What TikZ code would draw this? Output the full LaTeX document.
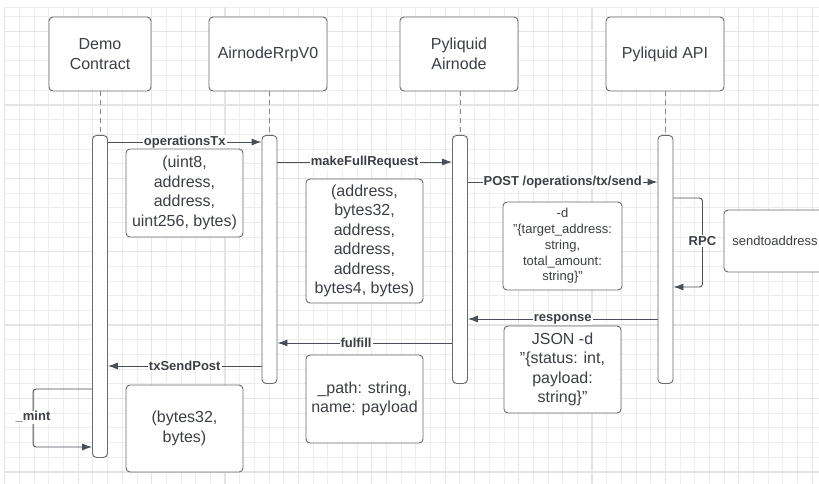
\documentclass[tikz,border=0pt]{standalone}
\usepackage{fontspec}
\setmainfont{Liberation Sans}
\usetikzlibrary{calc,positioning,arrows.meta}
\definecolor{gridmin}{HTML}{EDEDED}
\definecolor{gridmaj}{HTML}{E4E4E4}
\definecolor{edgegray}{HTML}{676A70}
\definecolor{inkgray}{HTML}{3C3F45}
\definecolor{linegray}{HTML}{4A4F57}

\begin{document}
\begin{tikzpicture}[x=1pt,y=-1pt]

     \tikzstyle{every node}=[text=inkgray]
     \tikzstyle{head}=[draw=edgegray,fill=white,line width=0.9pt,rounded corners=4pt,minimum width=118pt,minimum height=74pt,align=center,font=\fontsize{16}{19.5}\selectfont]
     \tikzstyle{bar}=[draw=edgegray,line width=0.9pt,fill=white,rounded corners=4pt,minimum width=15pt,inner sep=0pt,anchor=north]
     \tikzstyle{note}=[draw=edgegray,fill=white,line width=0.9pt,rounded corners=4pt,minimum width=117pt,align=center,font=\fontsize{16}{19.5}\selectfont]
     \tikzstyle{life}=[draw=edgegray!80,line width=0.8pt,dash pattern=on 5pt off 4pt]
     \tikzstyle{msg}=[draw=linegray,line width=0.9pt,-{Latex[length=10pt,width=7pt]}]
     \tikzstyle{lbl}=[fill=white,inner sep=1pt,font=\fontsize{13}{15}\selectfont\bfseries]

     % background grid
     \fill[white](0,0)rectangle(819,484);
     \clip(0,0)rectangle(819,484);
     \foreach \i in {0,...,55}
       \draw[gridmin,line width=0.8pt](4.8+14.68*\i,7)--(4.8+14.68*\i,484);
     \foreach \j in {0,...,32}
       \draw[gridmin,line width=0.8pt](4.8,16.8+14.68*\j)--(819,16.8+14.68*\j);
     \draw[gridmin,line width=0.8pt](4.8,7)--(819,7);
     \foreach \i in {0,5,...,55}
       \draw[gridmaj,line width=1.3pt](4.8+14.68*\i,7)--(4.8+14.68*\i,484);
     \foreach \j in {1,6,...,31}
       \draw[gridmaj,line width=1.3pt](4.8,16.8+14.68*\j)--(819,16.8+14.68*\j);

     % participants
     \node[head,minimum width=102pt](demo) at (100,54){Demo\\Contract};
     \node[head](rrp) at (268,54){AirnodeRrpV0};
     \node[head](pyair) at (459,54){Pyliquid\\Airnode};
     \node[head](pyapi) at (665,54){Pyliquid API};

     % activation bars
     \node[bar,minimum height=322pt](dbar) at (100,135){};
     \node[bar,minimum height=248pt](rbar) at (269.5,135){};
     \node[bar,minimum height=248pt](abar) at (460,135){};
     \node[bar,minimum height=248pt](pbar) at (665.5,135){};
     \draw[life](dbar.north |- demo.south)--(dbar.north);
     \draw[life](rbar.north |- rrp.south)--(rbar.north);
     \draw[life](abar.north |- pyair.south)--(abar.north);
     \draw[life](pbar.north |- pyapi.south)--(pbar.north);

     % messages
     \draw[msg]($(dbar.north east)+(0,7)$)--($(rbar.north west)+(0,7)$)node[midway,lbl]{operationsTx};
     \draw[msg]($(rbar.north east)+(0,27)$)--($(abar.north west)+(0,27)$)node[midway,lbl]{makeFullRequest};
     \draw[msg]($(abar.north east)+(0,47)$)--($(pbar.north west)+(0,47)$)node[midway,lbl]{POST /operations/tx/send};
     \draw[msg,rounded corners=3pt]($(pbar.north east)+(0,63)$)--++(29,0)--++(0,89)--($(pbar.north east)+(0,152)$);
     \node[lbl](rpc) at ($(pbar.north east)+(29,106)$){RPC};
     \draw[msg]($(pbar.north west)+(0,184)$)--($(abar.north east)+(0,184)$)node[midway,lbl]{response};
     \draw[msg]($(abar.north west)+(0,208)$)--($(rbar.north east)+(0,208)$)node[pos=0.55,lbl]{fulfill};
     \draw[msg]($(rbar.north west)+(0,231)$)--($(dbar.north east)+(0,231)$)node[midway,lbl]{txSendPost};
     \draw[msg,rounded corners=3pt]($(dbar.north west)+(0,254)$)--++(-59,0)--++(0,58)--($(dbar.north west)+(0,312)$);
     \node[lbl](mint) at ($(dbar.north west)+(-59,282)$){\_mint};

     % argument notes
     \node[note,minimum height=88pt](args1) at (184.5,193){(uint8,\\address,\\address,\\uint256, bytes)};
     \node[note,minimum height=124pt](args2) at (364.5,241){(address,\\bytes32,\\address,\\address,\\address,\\bytes4, bytes)};
     \node[note,minimum width=119pt,minimum height=88pt,font=\fontsize{13}{15.7}\selectfont](body) at (562.5,246){-d\\"\{target\_address:\\string,\\total\_amount:\\string\}"};
     \node[note,minimum width=102pt,minimum height=62pt,font=\fontsize{13}{15.7}\selectfont](rpccall) at (775,241){sendtoaddress};
     \node[note,minimum height=87pt](reply) at (562.5,369.5){JSON -d\\"\{status: int,\\payload:\\string\}"};
     \node[note,minimum height=88pt](result) at (364.5,399){\_path: string,\\name: payload};
     \node[note,minimum height=87pt](sent) at (184.5,428.5){(bytes32,\\bytes)};

\end{tikzpicture}
\end{document}
